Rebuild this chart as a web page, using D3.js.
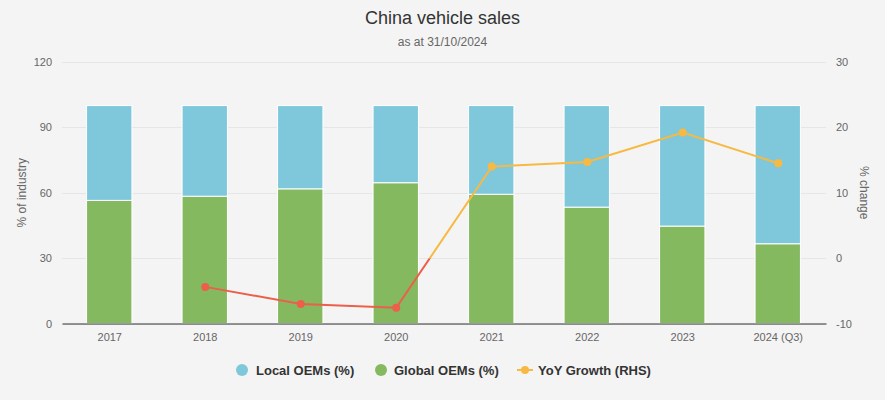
<!DOCTYPE html>
<html><head><meta charset="utf-8">
<script src="https://cdn.jsdelivr.net/npm/d3@7/dist/d3.min.js"></script>
<style>body{margin:0;background:#f4f4f4;}svg{display:block;font-family:"Liberation Sans",Arial,sans-serif;}</style>
</head><body><svg id="c" width="885" height="400"></svg>
<script>
const categories = ["2017","2018","2019","2020","2021","2022","2023","2024 (Q3)"];
const globalOEMs = [56.5, 58.4, 61.8, 64.6, 59.3, 53.4, 44.7, 36.6];
const localOEMs = globalOEMs.map(v => 100 - v);
const yoyGrowth = [null, -4.4, -7.0, -7.6, 14.0, 14.7, 19.2, 14.5];
const leftTicks = [0, 30, 60, 90, 120];
const rightTicks = [-10, 0, 10, 20, 30];

const W = 885, H = 400;
const m = {l: 62, r: 826, t: 62, b: 323.5};
const svg = d3.select("#c");
svg.append("rect").attr("width", W).attr("height", H).attr("fill", "#f4f4f4");

const x = d3.scaleBand().domain(categories).range([m.l, m.r]).paddingInner(0.525).paddingOuter(0.2625);
const yL = d3.scaleLinear().domain([0, 120]).range([m.b, m.t]);
const yR = d3.scaleLinear().domain([-10, 30]).range([m.b, m.t]);

// grid
svg.append("g").selectAll("line").data(leftTicks).join("line")
  .attr("x1", m.l).attr("x2", m.r).attr("y1", d => Math.round(yL(d)) + 0.5).attr("y2", d => Math.round(yL(d)) + 0.5)
  .attr("stroke", "#e6e6e6");

// title
svg.append("text").attr("x", W/2).attr("y", 24).attr("text-anchor", "middle").attr("font-size", 18).attr("fill", "#333").text("China vehicle sales");
svg.append("text").attr("x", W/2).attr("y", 46).attr("text-anchor", "middle").attr("font-size", 12).attr("fill", "#666").text("as at 31/10/2024");

// bars
const bars = svg.append("g");
categories.forEach((c, i) => {
  const g = globalOEMs[i], l = localOEMs[i];
  bars.append("rect").attr("x", x(c) - 0.5).attr("width", x.bandwidth())
    .attr("y", yL(g)).attr("height", yL(0) - yL(g))
    .attr("fill", "#85b960").attr("stroke", "#fff").attr("stroke-width", 1);
  bars.append("rect").attr("x", x(c) - 0.5).attr("width", x.bandwidth())
    .attr("y", yL(g + l)).attr("height", yL(g) - yL(g + l))
    .attr("fill", "#7fc8dc").attr("stroke", "#fff").attr("stroke-width", 1);
});

// axes
const fmt = d => String(d);
const axL = svg.append("g").attr("transform", `translate(${m.l},0)`).call(d3.axisLeft(yL).tickValues(leftTicks).tickFormat(fmt).tickSize(0).tickPadding(10));
axL.select(".domain").remove();
const axR = svg.append("g").attr("transform", `translate(${m.r},0)`).call(d3.axisRight(yR).tickValues(rightTicks).tickFormat(fmt).tickSize(0).tickPadding(10));
axR.select(".domain").remove();
const axB = svg.append("g").attr("transform", `translate(0,${m.b})`).call(d3.axisBottom(x).tickSize(0).tickPadding(10));
axB.select(".domain").attr("stroke", "#333").attr("stroke-width", 1);
[axL, axR, axB].forEach(a => a.selectAll("text").attr("font-size", 11).attr("fill", "#666").attr("font-family", "Liberation Sans, Arial, sans-serif"));
axR.selectAll("text").attr("dy", "0.32em");

svg.append("text").attr("transform", `translate(26,${(m.t+m.b)/2}) rotate(-90)`).attr("text-anchor", "middle").attr("font-size", 12).attr("fill", "#666").text("% of industry");
svg.append("text").attr("transform", `translate(860,${(m.t+m.b)/2}) rotate(90)`).attr("text-anchor", "middle").attr("font-size", 12).attr("fill", "#666").text("% change");

// line with zones
const pts = categories.map((c, i) => ({c, v: yoyGrowth[i]})).filter(d => d.v !== null);
const line = d3.line().x(d => x(d.c) + x.bandwidth()/2).y(d => yR(d.v));
const defs = svg.append("defs");
defs.append("clipPath").attr("id", "neg").append("rect").attr("x", 0).attr("width", W).attr("y", yR(0)).attr("height", H - yR(0));
defs.append("clipPath").attr("id", "pos").append("rect").attr("x", 0).attr("width", W).attr("y", 0).attr("height", yR(0));
svg.append("path").datum(pts).attr("d", line).attr("fill", "none").attr("stroke", "#ec5f4b").attr("stroke-width", 2).attr("clip-path", "url(#neg)");
svg.append("path").datum(pts).attr("d", line).attr("fill", "none").attr("stroke", "#f7b941").attr("stroke-width", 2).attr("clip-path", "url(#pos)");
svg.append("g").selectAll("circle").data(pts).join("circle")
  .attr("cx", d => x(d.c) + x.bandwidth()/2).attr("cy", d => yR(d.v)).attr("r", 4)
  .attr("fill", d => d.v < 0 ? "#ec5f4b" : "#f7b941");

// legend
const lg = svg.append("g").attr("font-size", 13).attr("font-weight", "bold").attr("fill", "#333");
lg.append("circle").attr("cx", 242).attr("cy", 370).attr("r", 6).attr("fill", "#7fc8dc");
lg.append("text").attr("x", 256).attr("y", 374.5).text("Local OEMs (%)");
lg.append("circle").attr("cx", 381).attr("cy", 370).attr("r", 6).attr("fill", "#85b960");
lg.append("text").attr("x", 394).attr("y", 374.5).text("Global OEMs (%)");
lg.append("line").attr("x1", 517).attr("x2", 533).attr("y1", 370).attr("y2", 370).attr("stroke", "#f7b941").attr("stroke-width", 2);
lg.append("circle").attr("cx", 525).attr("cy", 370).attr("r", 4).attr("fill", "#f7b941");
lg.append("text").attr("x", 538).attr("y", 374.5).text("YoY Growth (RHS)");
</script></body></html>
